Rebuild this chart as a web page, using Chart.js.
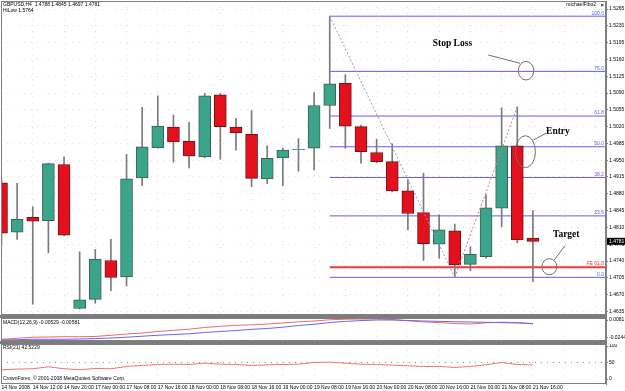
<!DOCTYPE html>
<html>
<head>
<meta charset="utf-8">
<script src="https://cdn.jsdelivr.net/npm/chart.js@4.4.0/dist/chart.umd.min.js"></script>
<style>
  html, body { margin: 0; padding: 0; background: #fff; }
  #wrap { position: relative; width: 625px; height: 391px; overflow: hidden; }
  canvas { position: absolute; left: 0; }
</style>
</head>
<body>
<div id="wrap">
  <canvas id="mainChart" width="625" height="315" style="top:0"></canvas>
  <canvas id="macdChart" width="625" height="29" style="top:315px"></canvas>
  <canvas id="rsiChart" width="625" height="47" style="top:344px"></canvas>
</div>
<script>
// GBPUSD H4 candles, 14 Nov - 21 Nov 2008
const opens  = [1.4903, 1.4800, 1.4831, 1.4824, 1.4941, 1.4641, 1.4660, 1.4741, 1.4707, 1.4913, 1.4976, 1.5019, 1.4990, 1.4957, 1.5086, 1.5019, 1.5004, 1.4911, 1.4955, 1.4972, 1.4975, 1.5064, 1.5110, 1.5020, 1.4966, 1.4947, 1.4886, 1.4841, 1.4775, 1.4803, 1.4733, 1.4749, 1.4850, 1.4980, 1.4788];
const highs  = [1.4913, 1.4902, 1.4853, 1.4944, 1.4957, 1.4759, 1.4764, 1.4785, 1.4962, 1.5060, 1.5084, 1.5044, 1.5029, 1.5089, 1.5089, 1.5037, 1.5053, 1.4980, 1.4975, 1.4995, 1.5091, 1.5250, 1.5128, 1.5023, 1.4994, 1.4984, 1.4909, 1.4923, 1.4836, 1.4817, 1.4770, 1.4878, 1.5059, 1.5061, 1.4845];
const lows   = [1.4773, 1.4785, 1.4650, 1.4757, 1.4792, 1.4640, 1.4652, 1.4678, 1.4688, 1.4897, 1.4975, 1.4946, 1.4934, 1.4955, 1.4952, 1.4971, 1.4895, 1.4901, 1.4897, 1.4927, 1.4930, 1.5016, 1.4975, 1.4944, 1.4945, 1.4884, 1.4805, 1.4741, 1.4746, 1.4706, 1.4720, 1.4746, 1.4811, 1.4778, 1.4697];
const closes = [1.4798, 1.4827, 1.4823, 1.4943, 1.4794, 1.4659, 1.4744, 1.4706, 1.4911, 1.4978, 1.5021, 1.4988, 1.4959, 1.5084, 1.5020, 1.5007, 1.4912, 1.4954, 1.4971, 1.4973, 1.5064, 1.5109, 1.5021, 1.4968, 1.4947, 1.4886, 1.4839, 1.4776, 1.4805, 1.4732, 1.4754, 1.4851, 1.4980, 1.4784, 1.4781];

// indicators
const macdMain   = [-0.0267, -0.0249, -0.0231, -0.0226, -0.0221, -0.0221, -0.0217, -0.0195, -0.0172, -0.0154, -0.0127, -0.0105, -0.0085, -0.0054, -0.0033, -0.0015, -0.0006, 0.0009, 0.0027, 0.0048, 0.0063, 0.0085, 0.0095, 0.0099, 0.0099, 0.0090, 0.0067, 0.0045, 0.0034, 0.0018, 0.0009, 0.0030, 0.0041, 0.0036, 0.0016];
const macdSignal = [-0.0280, -0.0275, -0.0267, -0.0267, -0.0267, -0.0262, -0.0255, -0.0244, -0.0230, -0.0212, -0.0195, -0.0181, -0.0168, -0.0145, -0.0127, -0.0109, -0.0087, -0.0073, -0.0049, -0.0018, 0.0003, 0.0036, 0.0056, 0.0070, 0.0081, 0.0081, 0.0072, 0.0063, 0.0056, 0.0050, 0.0045, 0.0039, 0.0034, 0.0027, 0.0014];
const rsiValues  = [28, 30, 31, 37, 31, 28, 32, 31, 38, 41, 44, 45, 44, 48, 45, 44, 41, 43, 44, 45, 50, 51, 48, 45, 44, 42, 40, 38, 38, 35, 38, 43, 50, 44, 42.5];

// axis labels
const timeLabels = ['14 Nov 2008', '14 Nov 12:00', '14 Nov 20:00', '17 Nov 00:00', '17 Nov 08:00', '17 Nov 16:00', '18 Nov 00:00', '18 Nov 08:00', '18 Nov 16:00', '19 Nov 00:00', '19 Nov 08:00', '19 Nov 16:00', '20 Nov 00:00', '20 Nov 08:00', '20 Nov 16:00', '21 Nov 00:00', '21 Nov 08:00', '21 Nov 16:00'];
const priceTicks = [1.5265, 1.5230, 1.5195, 1.5160, 1.5125, 1.5090, 1.5055, 1.5020, 1.4985, 1.4950, 1.4915, 1.4880, 1.4845, 1.4810, 1.4775, 1.4740, 1.4705, 1.4670, 1.4635];
const macdTicks = [0.0081, -0.0244];
const rsiTicks = [100, 50, 0];

// fibonacci object drawn from bar 21
const fibNames  = ['100.0', '75.0', '61.8', '50.0', '38.2', '23.6', '0.0'];
const fibPrices = [1.5250, 1.5135, 1.5042, 1.4978, 1.4914, 1.4834, 1.4706];
const feName = 'FE 61.8';
const fePrice = 1.4727;
const fibStart = 21;

// hand drawn notes: [text, textX, textY, ellipseX, ellipseY, rx, ry, lineX1, lineY1, lineX2, lineY2, align]
const notes = [
  ['Stop Loss', 28.85, 1.51921, 33.56, 1.51365, 7.7, 9.3, 31.14, 1.51692, 33.17, 1.51519, 'center'],
  ['Entry', 34.84, 1.50094, 33.52, 1.49677, 10, 16, 34.03, 1.49921, 34.84, 1.50060, 'left'],
  ['Target', 35.28, 1.47956, 35.05, 1.47281, 7.5, 8, 35.37, 1.47421, 36.05, 1.47719, 'left']
];

const X_MIN = -0.032, X_MAX = 38.676;
const SMALL = "'Liberation Sans', Arial, sans-serif";
const UP = '#3ba58b', DOWN = '#e5101e';
const FIB_BLUE = '#5f5fee', FE_RED = '#f03a3a';
const GRID = '#dedede';
const AXIS = '#808080';

const gridBars = [];
for (let i = 0; i <= 38; i += 2) gridBars.push(i);

function xAxis(showLabels) {
  return {
    type: 'linear', min: X_MIN, max: X_MAX, offset: false, display: true,
    afterBuildTicks: s => { s.ticks = gridBars.map(v => ({ value: v })); },
    afterFit: s => { s.height = showLabels ? 7 : 0; s.paddingLeft = 0; s.paddingRight = 0; },
    grid: { color: GRID, drawTicks: false, offset: false },
    border: { display: false, dash: [1, 5] },
    ticks: {
      display: showLabels, autoSkip: false, maxRotation: 0, minRotation: 0, align: 'start', padding: 1,
      font: { family: SMALL, size: 5 }, color: '#000',
      callback: v => (v % 2 === 0 && v / 2 < timeLabels.length) ? timeLabels[v / 2] : ''
    }
  };
}

function yAxis(min, max, tickValues, fmt, gridColor) {
  return {
    position: 'right', min: min, max: max,
    afterBuildTicks: s => { s.ticks = tickValues.map(v => ({ value: v })); },
    afterFit: s => { s.width = 19; s.paddingTop = 0; s.paddingBottom = 0; },
    grid: { color: gridColor, tickColor: AXIS, tickLength: 2 },
    border: { display: true, color: AXIS, dash: [1, 5] },
    ticks: { autoSkip: false, padding: 1, font: { family: SMALL, size: 5 }, color: '#000', callback: fmt }
  };
}

function drawFrame(chart) {
  const { ctx, chartArea: a } = chart;
  ctx.save();
  ctx.strokeStyle = AXIS;
  ctx.lineWidth = 1;
  ctx.strokeRect(Math.floor(a.left) + 0.5, Math.floor(a.top) + 0.5, Math.round(a.right - a.left) - 1, Math.round(a.bottom - a.top) - 1);
  ctx.restore();
}

const mainDecor = {
  id: 'mainDecor',
  afterDatasetsDraw(chart) {
    const { ctx, chartArea: a, scales: { x, y } } = chart;
    ctx.save();
    ctx.font = '5px ' + SMALL;
    ctx.textAlign = 'right';
    ctx.textBaseline = 'bottom';
    ctx.fillStyle = FIB_BLUE;
    fibNames.forEach((n, i) => ctx.fillText(n, a.right - 2, y.getPixelForValue(fibPrices[i]) - 0.5));
    ctx.fillStyle = FE_RED;
    ctx.fillText(feName, a.right - 2, y.getPixelForValue(fePrice) - 1);

    ctx.strokeStyle = '#6e6e6e';
    ctx.lineWidth = 1;
    ctx.fillStyle = '#000';
    ctx.font = "bold 9.5px 'Liberation Serif', 'Times New Roman', serif";
    ctx.textBaseline = 'middle';
    notes.forEach(n => {
      ctx.beginPath();
      ctx.ellipse(x.getPixelForValue(n[3]), y.getPixelForValue(n[4]), n[5], n[6], 0, 0, Math.PI * 2);
      ctx.stroke();
      ctx.beginPath();
      ctx.moveTo(x.getPixelForValue(n[7]), y.getPixelForValue(n[8]));
      ctx.lineTo(x.getPixelForValue(n[9]), y.getPixelForValue(n[10]));
      ctx.stroke();
      ctx.textAlign = n[11];
      ctx.fillText(n[0], x.getPixelForValue(n[1]), y.getPixelForValue(n[2]));
    });
    ctx.restore();
  },
  afterDraw(chart) {
    const { ctx, chartArea: a, scales: { y } } = chart;
    drawFrame(chart);
    ctx.save();
    ctx.font = '5px ' + SMALL;
    ctx.textBaseline = 'middle';
    ctx.textAlign = 'left';
    ctx.fillStyle = '#000';
    const last = opens.length - 1;
    ctx.fillText('GBPUSD,H4  ' + [opens[last], highs[last], lows[last], closes[last]].map(v => v.toFixed(4)).join(' '), 3, 5);
    ctx.fillText('HiLow 1.5764', 3, 10.5);
    ctx.textAlign = 'right';
    ctx.fillText('michaelFibo2', 596, 5);
    ctx.font = 'bold 6px ' + SMALL;
    ctx.fillText('\u00d7', 604, 5);
    // current price box
    const py = y.getPixelForValue(closes[last]);
    ctx.fillStyle = '#000';
    ctx.fillRect(a.right + 1, py - 3.5, 625 - a.right - 1, 7);
    ctx.fillStyle = '#fff';
    ctx.font = '5px ' + SMALL;
    ctx.textAlign = 'left';
    ctx.fillText(closes[last].toFixed(4), a.right + 3, py);
    ctx.restore();
  }
};

const macdDecor = {
  id: 'macdDecor',
  afterDraw(chart) {
    const { ctx, chartArea: a } = chart;
    drawFrame(chart);
    ctx.save();
    ctx.fillStyle = '#7c7c7c';
    ctx.fillRect(0, 0, a.right + 1, 3);
    ctx.fillRect(0, chart.height - 3, a.right + 1, 3);
    ctx.font = '5px ' + SMALL;
    ctx.textBaseline = 'middle';
    ctx.fillStyle = '#000';
    ctx.fillText('MACD(12,26,9) -0.00529 -0.00581', 3, 7.5);
    ctx.restore();
  }
};

const rsiDecor = {
  id: 'rsiDecor',
  afterDraw(chart) {
    const { ctx } = chart;
    drawFrame(chart);
    ctx.save();
    ctx.font = '5px ' + SMALL;
    ctx.textBaseline = 'middle';
    ctx.fillStyle = '#000';
    ctx.fillText('RSI(21) 42.5229', 3, 3.8);
    ctx.fillText('CrownForex, \u00a9 2001-2008 MetaQuotes Software Corp.', 3, 34.5);
    ctx.restore();
  }
};

const baseOptions = {
  responsive: false,
  animation: false,
  events: [],
  plugins: { legend: { display: false }, tooltip: { enabled: false } }
};

// ---- main candle chart
const bodyColors = opens.map((o, i) => closes[i] >= o ? UP : DOWN);
const bodyBorders = opens.map((o, i) => closes[i] >= o ? '#3f5d52' : '#6a1616');
const fibSets = fibPrices.map((p, i) => ({
  type: 'line', label: 'fib ' + fibNames[i],
  data: [{ x: fibStart, y: p }, { x: X_MAX, y: p }],
  borderColor: FIB_BLUE, borderWidth: 1, pointRadius: 0, order: 3
}));
fibSets.push({
  type: 'line', label: feName,
  data: [{ x: fibStart, y: fePrice }, { x: X_MAX, y: fePrice }],
  borderColor: FE_RED, borderWidth: 2, pointRadius: 0, order: 3
});

new Chart(document.getElementById('mainChart'), {
  type: 'bar',
  data: {
    datasets: [
      {
        type: 'line', label: 'swing down',
        data: [{ x: 21, y: highs[21] }, { x: 29, y: lows[29] }],
        borderColor: '#9a90d8', borderDash: [2, 2], borderWidth: 1, pointRadius: 0, order: 0
      },
      {
        type: 'line', label: 'swing up',
        data: [{ x: 29, y: lows[29] }, { x: 33, y: highs[33] }],
        borderColor: '#f07070', borderDash: [2, 2], borderWidth: 1, pointRadius: 0, order: 0
      },
      {
        label: 'body',
        data: opens.map((o, i) => ({ x: i, y: [o, closes[i]] })),
        backgroundColor: bodyColors, borderColor: bodyBorders, borderWidth: 1, borderSkipped: false,
        barThickness: 12, grouped: false, order: 1
      },
      {
        label: 'wick',
        data: highs.map((h, i) => ({ x: i, y: [lows[i], h] })),
        backgroundColor: '#7a7a7a', barThickness: 1, grouped: false, order: 2
      },
      ...fibSets
    ]
  },
  options: Object.assign({}, baseOptions, {
    layout: { padding: { top: 1, left: 1, right: 0, bottom: 0 } },
    scales: {
      x: xAxis(false),
      y: yAxis(1.5265 - 306 / 4800, 1.5265 + 8 / 4800, priceTicks, v => v.toFixed(4), GRID)
    }
  }),
  plugins: [mainDecor]
});

// ---- MACD panel
new Chart(document.getElementById('macdChart'), {
  type: 'line',
  data: {
    datasets: [
      { label: 'signal', data: macdSignal.map((v, i) => ({ x: i, y: v })), borderColor: '#6666ee', borderWidth: 1, pointRadius: 0, order: 0 },
      { label: 'macd', data: macdMain.map((v, i) => ({ x: i, y: v })), borderColor: '#f06868', borderWidth: 1, pointRadius: 0, order: 1 }
    ]
  },
  options: Object.assign({}, baseOptions, {
    layout: { padding: { top: 3, left: 1, right: 0, bottom: 3 } },
    scales: {
      x: xAxis(false),
      y: yAxis(0.0081 - 21 * 0.0018056, 0.0081 + 2 * 0.0018056, macdTicks, v => v.toFixed(4), 'rgba(0,0,0,0)')
    }
  }),
  plugins: [macdDecor]
});

// ---- RSI panel
new Chart(document.getElementById('rsiChart'), {
  type: 'line',
  data: {
    datasets: [
      { label: 'rsi', data: rsiValues.map((v, i) => ({ x: i, y: v })), borderColor: '#f07373', borderWidth: 1, pointRadius: 0 }
    ]
  },
  options: Object.assign({}, baseOptions, {
    layout: { padding: { top: 0, left: 1, right: 0, bottom: 0 } },
    scales: {
      x: xAxis(true),
      y: yAxis(-5 / 0.33, 35 / 0.33, rsiTicks, v => String(v), c => c.tick && c.tick.value === 50 ? '#8a8a8a' : 'rgba(0,0,0,0)')
    }
  }),
  plugins: [rsiDecor]
});
</script>
</body>
</html>
